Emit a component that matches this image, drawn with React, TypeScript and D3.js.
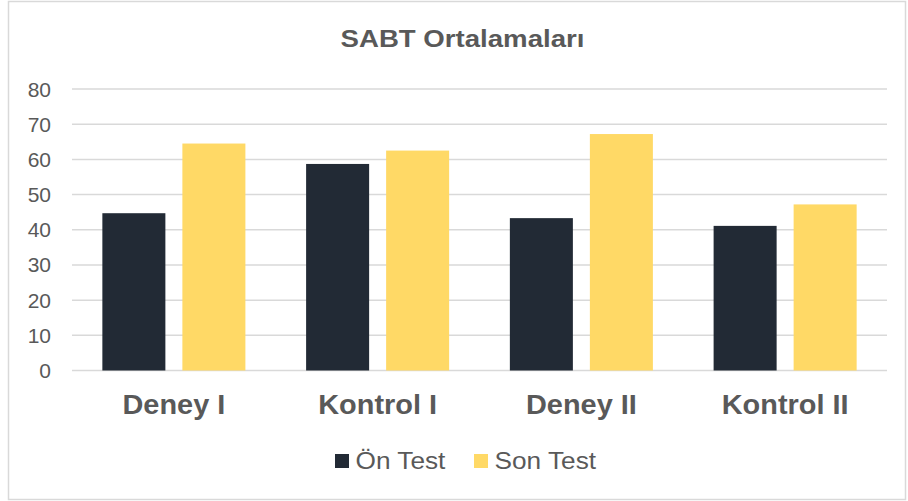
import React, { useEffect, useRef } from 'react';
import * as d3 from 'd3';

const categories = ['Deney I', 'Kontrol I', 'Deney II', 'Kontrol II'];
const seriesNames = ['Ön Test', 'Son Test'];
const onTest = [44.7, 58.7, 43.3, 41.1];
const sonTest = [64.5, 62.5, 67.2, 47.2];
const yTicks = [0, 10, 20, 30, 40, 50, 60, 70, 80];
const colors = ['#222a35', '#ffd966'];

const W = 908, H = 501;
const FONT = '"Liberation Sans", Arial, sans-serif';

const App = () => {
  const ref = useRef<SVGSVGElement>(null);

  useEffect(() => {
    const svg = d3.select(ref.current);
    svg.selectAll('*').remove();

    const left = 72, right = 887, top = 89, bottom = 370.5;

    const x0 = d3.scaleBand<string>().domain(categories).range([left, right])
      .paddingInner(0.298).paddingOuter(0.149);
    const x1 = d3.scaleBand<string>().domain(seriesNames).range([0, x0.bandwidth()])
      .paddingInner(0.2125).paddingOuter(0);
    const y = d3.scaleLinear().domain([0, 80]).range([bottom, top]);

    // chart border
    svg.append('rect')
      .attr('x', 8.5).attr('y', 1.5).attr('width', W - 11).attr('height', H - 3)
      .attr('fill', '#fff').attr('stroke', '#d9d9d9').attr('stroke-width', 1.5);

    svg.append('text')
      .attr('transform', 'translate(462.5,47) scale(1.15,1)')
      .attr('text-anchor', 'middle')
      .attr('font-family', FONT).attr('font-weight', 'bold').attr('font-size', 24)
      .attr('fill', '#595959')
      .text('SABT Ortalamaları');

    // gridlines
    svg.append('g').selectAll('line')
      .data(yTicks)
      .join('line')
      .attr('x1', left).attr('x2', right)
      .attr('y1', d => y(d)).attr('y2', d => y(d))
      .attr('stroke', '#d9d9d9').attr('stroke-width', 1.5);

    svg.append('g').selectAll('text')
      .data(yTicks)
      .join('text')
      .attr('x', 51).attr('y', d => y(d) + 7.5)
      .attr('text-anchor', 'end')
      .attr('font-family', FONT).attr('font-size', 21)
      .attr('fill', '#595959')
      .text(d => d);

    const rows = categories.map((c, i) => ({ c, vals: [onTest[i], sonTest[i]] }));

    const g = svg.append('g');
    rows.forEach(r => {
      g.append('g')
        .attr('transform', `translate(${x0(r.c)},0)`)
        .selectAll('rect')
        .data(r.vals.map((v, i) => ({ s: seriesNames[i], v, i })))
        .join('rect')
        .attr('x', d => x1(d.s)!)
        .attr('width', x1.bandwidth())
        .attr('y', d => y(d.v))
        .attr('height', d => y(0) - y(d.v))
        .attr('fill', d => colors[d.i]);
    });

    svg.append('g').selectAll('text')
      .data(categories)
      .join('text')
      .attr('transform', d => `translate(${x0(d)! + x0.bandwidth() / 2},414) scale(1.07,1)`)
      .attr('text-anchor', 'middle')
      .attr('font-family', FONT).attr('font-weight', 'bold').attr('font-size', 27)
      .attr('fill', '#595959')
      .text(d => d);

    // legend
    const legend = [
      { name: seriesNames[0], x: 335, color: colors[0] },
      { name: seriesNames[1], x: 474, color: colors[1] },
    ];
    const lg = svg.append('g');
    legend.forEach(l => {
      lg.append('rect').attr('x', l.x).attr('y', 454).attr('width', 14).attr('height', 14)
        .attr('fill', l.color);
      lg.append('text')
        .attr('transform', `translate(${l.x + 20.5},468.5) scale(1.14,1)`)
        .attr('font-family', FONT).attr('font-size', 23)
        .attr('fill', '#595959')
        .text(l.name);
    });
  }, []);

  return (
    <svg ref={ref} width={W} height={H}
      style={{ position: 'absolute', left: 0, top: 0, display: 'block' }} />
  );
};

export default App;
